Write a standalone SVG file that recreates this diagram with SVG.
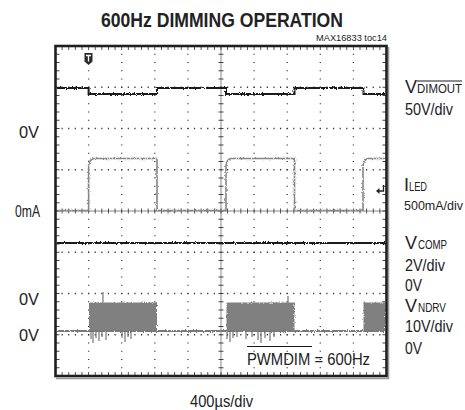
<svg xmlns="http://www.w3.org/2000/svg" width="465" height="410" viewBox="0 0 465 410">
<style>
text{font-family:"Liberation Sans",Arial,sans-serif;fill:#222}
.lbl{font-size:17px}
.sub{font-size:13px}
.dotx{stroke:#333;stroke-width:1.3;stroke-dasharray:1.2 5.42;fill:none}
.doty{stroke:#333;stroke-width:1.3;stroke-dasharray:1.2 7.05;fill:none}
.tickx{stroke:#444;stroke-dasharray:0.9 5.72;fill:none}
.ticky{stroke:#444;stroke-dasharray:0.9 7.35;fill:none}
.dark{stroke:#1a1a1a;stroke-width:2;fill:none}
.gray{stroke:#858585;stroke-width:1.6;fill:none}
</style>
<defs>
<filter id="jit" filterUnits="userSpaceOnUse" x="50" y="40" width="345" height="340">
<feTurbulence type="fractalNoise" baseFrequency="0.9 0.6" numOctaves="2" seed="4" result="n"/>
<feDisplacementMap in="SourceGraphic" in2="n" scale="3" xChannelSelector="R" yChannelSelector="G"/>
</filter>
</defs>
<g id="title">
<text x="101" y="27" font-size="21" font-weight="bold" textLength="242" lengthAdjust="spacingAndGlyphs" fill="#1a1a1a">600Hz DIMMING OPERATION</text>
<text x="316" y="41" font-size="9.5" fill="#333" textLength="71" lengthAdjust="spacingAndGlyphs">MAX16833 toc14</text>
</g>
<g id="grid">
<path class="dotx" d="M54.9,87.25H386.5M54.9,128.5H386.5M54.9,169.75H386.5M54.9,252.25H386.5M54.9,293.5H386.5M54.9,334.75H386.5"/>
<path class="doty" d="M88.6,45.4V376M121.7,45.4V376M154.8,45.4V376M187.9,45.4V376M254.1,45.4V376M287.2,45.4V376M320.3,45.4V376M353.4,45.4V376"/>
<path d="M55.5,211H386.5M221,46V376" stroke="#555" stroke-width="0.7" fill="none"/>
<path class="tickx" stroke-width="5" d="M55.05,211H386.5"/>
<path class="ticky" stroke-width="5" d="M221,45.55V376"/>
<path class="tickx" stroke-width="4" d="M55.05,48H386.5M55.05,374H386.5"/>
<path class="ticky" stroke-width="4" d="M57.5,45.55V376M384.5,45.55V376"/>
</g>
<g id="frame">
<path d="M388.5,47V378.5H56" stroke="#999" stroke-width="1.5" fill="none"/>
<rect x="55.5" y="46" width="331" height="330" fill="none" stroke="#1f1f1f" stroke-width="2.6"/>
</g>
<g id="traces">
<g filter="url(#jit)">
<path class="dark" d="M57,88H88.6V94H157V88H226V94H294.5V88H363.5V94H385"/>
<path class="gray" d="M57,210.5H88.6V165Q89.5,159.5 94,158.5H157V210.5H226V165Q227,159.5 231,158.5H294.5V210.5H363V165Q364,159.5 368,158.5H385"/>
<path class="dark" d="M57,243H385"/>
<path d="M89,302.5h68v28.5h-68zM226.5,302.5h68v28.5h-68zM363.5,302.5h21.5v28.5h-21.5z" fill="#808080"/>
<path d="M57,331H385" stroke="#7a7a7a" stroke-width="2" fill="none"/>
</g>
<path d="M91,331v8M93,331v12M96,331v7M99,331v10M102,331v6M106,331v9M122,331v7M125,331v11M128,331v6M131,331v8M227,331v8M230,331v11M233,331v7M237,331v6M246,331v8M252,331v6M258,331v9M261,331v12M265,331v7M270,331v10M274,331v6M103,303v-11M288,303v-7" stroke="#6a6a6a" stroke-width="1.1" fill="none"/>
</g>
<g id="markers">
<path d="M84.5,53h8v8.5l-4,3.5l-4,-3.5z" fill="#2a2a2a"/>
<path d="M86,55.5h5M88.5,55.5v6" stroke="#fff" stroke-width="1.3" fill="none"/>
<path d="M383.5,185v6h-5" stroke="#222" stroke-width="1.3" fill="none"/>
<path d="M376,191l3.5,-3v6z" fill="#222"/>
</g>
<g id="left-labels" class="lbl">
<text x="19" y="138" textLength="20" lengthAdjust="spacingAndGlyphs">0V</text>
<text x="15" y="217" textLength="25" lengthAdjust="spacingAndGlyphs">0mA</text>
<text x="19" y="305" textLength="20" lengthAdjust="spacingAndGlyphs">0V</text>
<text x="19" y="341" textLength="20" lengthAdjust="spacingAndGlyphs">0V</text>
</g>
<g id="right-labels">
<text x="405" y="93" font-size="18" textLength="12" lengthAdjust="spacingAndGlyphs">V</text>
<text x="417" y="93" font-size="12" textLength="45" lengthAdjust="spacingAndGlyphs">DIMOUT</text>
<path d="M417,81H462" stroke="#1a1a1a" stroke-width="1"/>
<text x="405" y="115" class="lbl" textLength="48" lengthAdjust="spacingAndGlyphs">50V/div</text>
<text x="404" y="191" font-size="18">I</text>
<text x="409" y="191" font-size="13.5" textLength="18" lengthAdjust="spacingAndGlyphs">LED</text>
<text x="404" y="210" font-size="13" textLength="59" lengthAdjust="spacingAndGlyphs">500mA/div</text>
<text x="405" y="249" font-size="18" textLength="12" lengthAdjust="spacingAndGlyphs">V</text>
<text x="418" y="249" font-size="13.5" textLength="29" lengthAdjust="spacingAndGlyphs">COMP</text>
<text x="405" y="271" class="lbl" textLength="40" lengthAdjust="spacingAndGlyphs">2V/div</text>
<text x="405" y="291" class="lbl" textLength="17" lengthAdjust="spacingAndGlyphs">0V</text>
<text x="405" y="312" font-size="18" textLength="12" lengthAdjust="spacingAndGlyphs">V</text>
<text x="418" y="312" font-size="13.5" textLength="28" lengthAdjust="spacingAndGlyphs">NDRV</text>
<text x="405" y="332" class="lbl" textLength="48" lengthAdjust="spacingAndGlyphs">10V/div</text>
<text x="405" y="354" class="lbl" textLength="17" lengthAdjust="spacingAndGlyphs">0V</text>
</g>
<g id="annotations">
<text x="247" y="365" class="lbl" textLength="123" lengthAdjust="spacingAndGlyphs">PWMDIM = 600Hz</text>
<path d="M247,346.5H312" stroke="#1a1a1a" stroke-width="1"/>
<text x="190" y="407" class="lbl" textLength="63" lengthAdjust="spacingAndGlyphs">400µs/div</text>
</g>
</svg>
